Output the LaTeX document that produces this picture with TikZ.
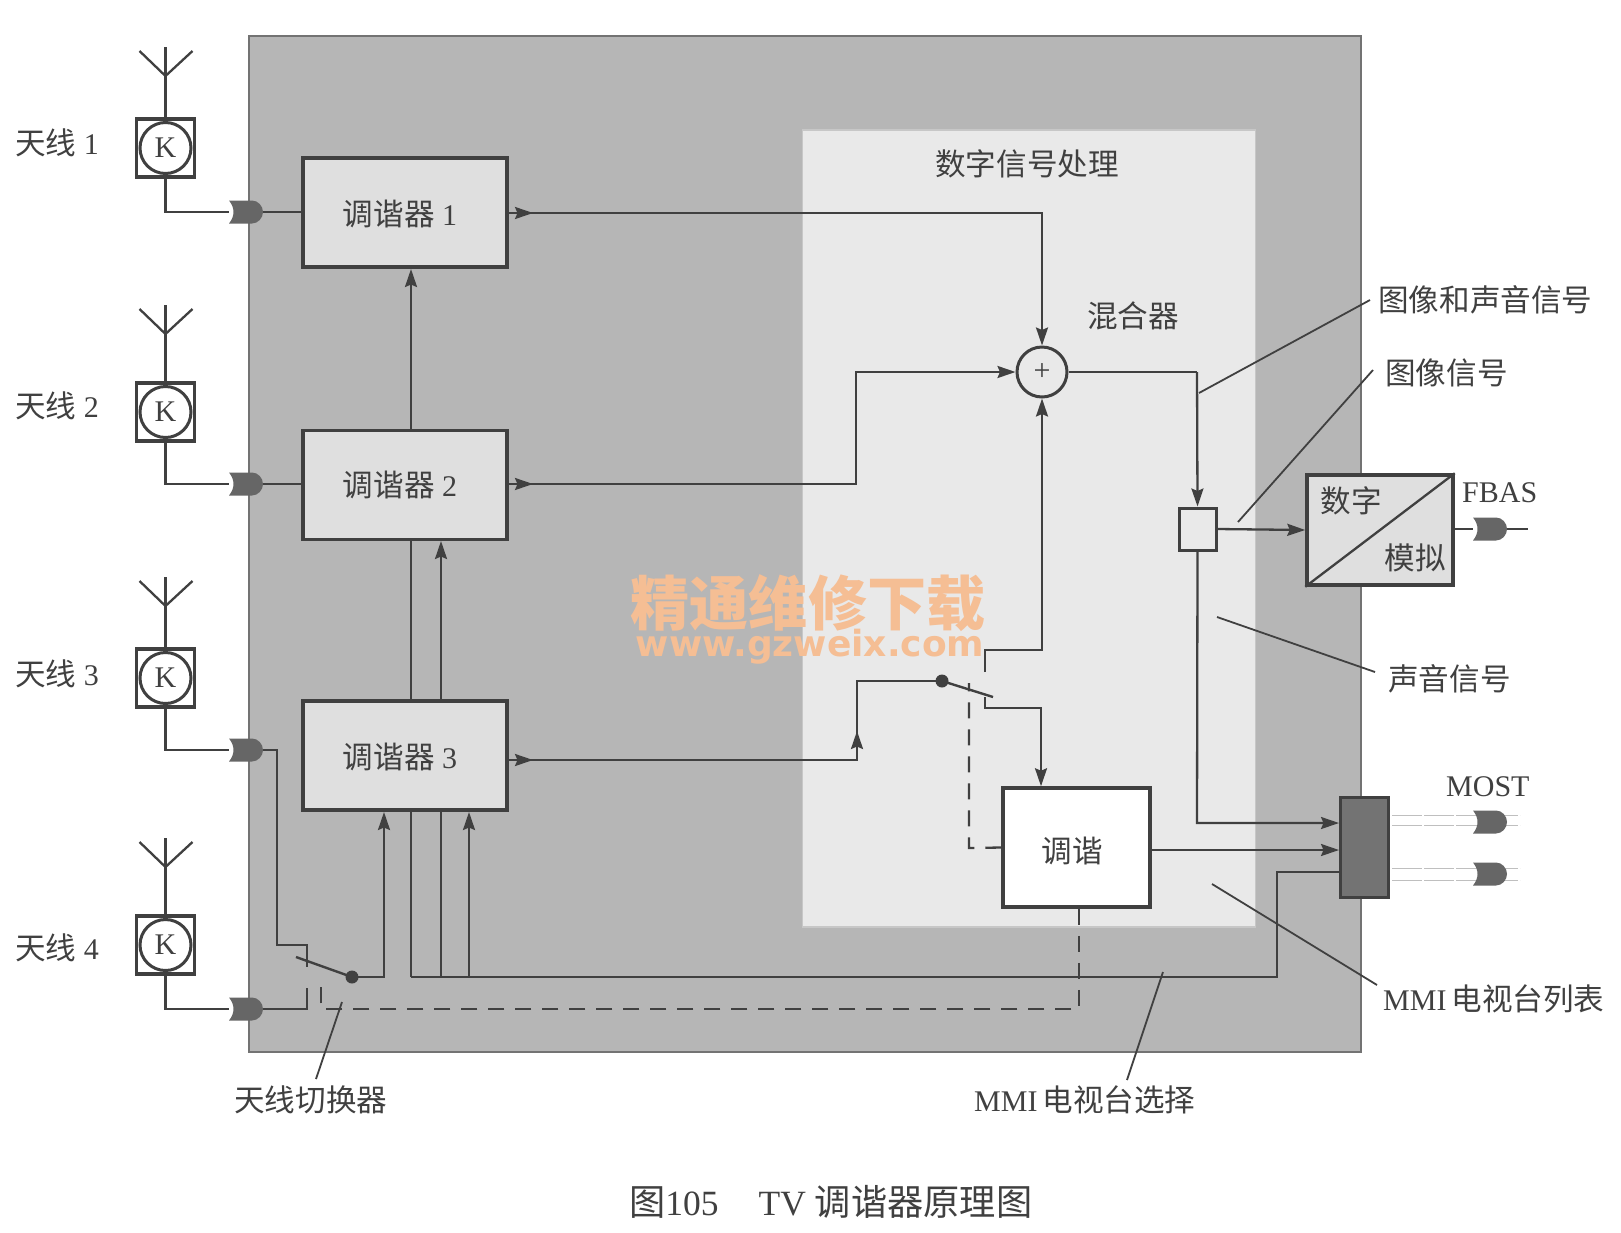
\documentclass[tikz,border=0pt]{standalone}
\usepackage{fontspec}
\setmainfont{Liberation Serif}
\newfontfamily\cjk[Scale=1.02]{Noto Sans CJK SC}
\newfontfamily\wmlatin{DejaVu Sans}
\usetikzlibrary{arrows.meta,calc}
\definecolor{ink}{HTML}{404040}
\definecolor{bggray}{HTML}{B6B6B6}
\definecolor{panelgray}{HTML}{E9E9E9}
\definecolor{tunergray}{HTML}{DFDFDF}
\definecolor{plugcol}{HTML}{666666}
\definecolor{muxcol}{HTML}{737373}
\definecolor{wmark}{HTML}{F5BE94}
\newcommand{\sz}{\fontsize{30}{35}\selectfont}
\tikzset{
  wire/.style={draw=ink,line width=2.3pt},
  tip/.style={-{Stealth[length=18pt,width=12pt,inset=2.5pt]}},
  dashwire/.style={draw=ink,line width=2.3pt,dash pattern=on 16pt off 11pt},
  leader/.style={draw=ink,line width=1.8pt},
  box/.style={draw=ink,line width=3.5pt,fill=tunergray,inner sep=0pt,text=ink,font=\sz},
  lbl/.style={inner sep=0pt,text=ink,font=\sz},
  plugnode/.style={minimum width=34pt,minimum height=23pt,inner sep=0pt,draw=none},
  antbox/.style={draw=ink,line width=3.5pt,minimum width=58pt,minimum height=58pt,inner sep=0pt},
  antcirc/.style={circle,draw=ink,line width=3pt,fill=white,minimum size=51pt,inner sep=0pt,text=ink,font=\sz},
  faint/.style={draw=black!25,line width=1pt,dash pattern=on 30pt off 2pt}
}
\newcommand{\plugat}[3]{%
  \node[plugnode] (#1) at (#2,#3) {};
  \fill[plugcol] (#2-17,#3-11.5) -- (#2+6,#3-11.5) .. controls (#2+12,#3-11.5) and (#2+17,#3-6) .. (#2+17,#3) .. controls (#2+17,#3+6) and (#2+12,#3+11.5) .. (#2+6,#3+11.5) -- (#2-17,#3+11.5) .. controls (#2-11,#3+4) and (#2-11,#3-4) .. (#2-17,#3-11.5) -- cycle;}
\newcommand{\antat}[4]{%
  \node[antbox] (#1box) at (#2,#3) {};
  \node[antcirc] (#1) at (#2,#3) {K};
  \coordinate (#1top) at (#2,#4);
  \coordinate (#1joint) at (#2,#4+29);
  \coordinate (#1l) at (#2-26,#4+4);
  \coordinate (#1r) at (#2+27,#4+4);
  \draw[wire] (#1box.north) -- (#1top);
  \draw[wire] (#1l) -- (#1joint) -- (#1r);}
\begin{document}
\begin{tikzpicture}[x=1pt,y=-1pt]
\useasboundingbox (0,0) rectangle (1621,1232);
% backgrounds
\fill[white] (0,0) rectangle (1621,1232);
\node[draw=black!55,line width=1.5pt,fill=bggray,minimum width=1112pt,minimum height=1016pt,inner sep=0pt] (outer) at (805,544) {};
\node[draw=black!22,line width=1.5pt,fill=panelgray,minimum width=453pt,minimum height=797pt,inner sep=0pt] (panel) at (1029,528.5) {};
% plugs and free points
\plugat{p1}{246}{212}
\plugat{p2}{246}{484}
\plugat{p3}{246}{750}
\plugat{p4}{246}{1009}
\plugat{pf}{1490}{529}
\coordinate (pfend) at (1528,529);
% named points on box edges
\coordinate (t1in) at (411,269);
\coordinate (t2in) at (441,541);
\coordinate (t3inL) at (384,812);
\coordinate (t3inR) at (469,812);
\coordinate (bus) at (411,977);
\coordinate (swA) at (352,977);
\coordinate (swB) at (942,681);
\coordinate (swA1) at (307,967);
\coordinate (swA2) at (307,988);
\coordinate (swAtip) at (296,957);
\coordinate (swBtip) at (993,697);
\coordinate (swB1) at (985,672);
\coordinate (swB2) at (985,697);
\coordinate (dashA) at (321,983);
\coordinate (dashB) at (969,683);
% wires under boxes
\draw[wire] (p3.east) -- (277,750) -- (277,945) -- (307,945) -- (swA1);
\draw[wire] (p4.east) -- (307,1009) -- (swA2);
\draw[wire,tip] (swA) -- (384,977) -- (t3inL);
\draw[wire,tip] (bus) -- (t1in);
\draw[wire,tip] (441,977) -- (t2in);
\draw[wire,tip] (469,977) -- (t3inR);
\draw[wire] (bus) -- (1277,977) -- (1277,872) -- (1340,872);
% named points along the outputs
\coordinate (out1) at (533,213);
\coordinate (out2) at (533,484);
\coordinate (out3) at (533,760);
\coordinate (up3) at (857,731);
% boxes
\node[box,minimum width=204pt,minimum height=109pt] (t1) at (405,212.5) {};
\node[box,minimum width=204pt,minimum height=109pt] (t2) at (405,485) {};
\node[box,minimum width=204pt,minimum height=109pt] (t3) at (405,755.5) {};
\node[lbl] at (400,214) {{\cjk 调谐器} 1};
\node[lbl] at (400,485) {{\cjk 调谐器} 2};
\node[lbl] at (400,757) {{\cjk 调谐器} 3};
\node[box,fill=white,minimum width=147pt,minimum height=119pt] (tune) at (1076.5,847.5) {};
\node[lbl] at (1072,851) {\cjk 调谐};
\draw[dashwire] (tune.south -| 1079,0) -- (1079,1009) -- (321,1009) -- (dashA);
\draw[dashwire] (tune.west) -- (969,848) -- (dashB);
\node[circle,draw=ink,line width=3pt,fill=panelgray,minimum size=50pt,inner sep=0pt,text=ink,font=\sz] (mix) at (1042,372) {+};
\node[box,line width=3pt,fill=panelgray,minimum width=37pt,minimum height=42pt] (small) at (1197.5,529) {};
\node[box,minimum width=146pt,minimum height=110pt] (da) at (1380,530) {};
\node[draw=ink,line width=3pt,fill=muxcol,minimum width=48pt,minimum height=100pt,inner sep=0pt] (mux) at (1364,847) {};
\coordinate (muxa) at (1339,823);
\coordinate (muxb) at (1339,850);
\coordinate (swtune) at (1041,708);
% antennas
\antat{a1}{165.5}{148}{47}
\antat{a2}{165.5}{412}{305}
\antat{a3}{165.5}{678}{577}
\antat{a4}{165.5}{945}{838}
\draw[wire] (a1box.south) |- (p1.west);
\draw[wire] (a2box.south) |- (p2.west);
\draw[wire] (a3box.south) |- (p3.west);
\draw[wire] (a4box.south) |- (p4.west);
\draw[wire] (p1.east) -- (t1.west |- p1.east);
\draw[wire] (p2.east) -- (t2.west |- p2.east);
% outputs
\draw[wire,tip] (t1.east |- out1) -- (1042,213) -- (mix.north);
\draw[wire,tip] (t1.east |- out1) -- (out1);
\draw[wire,tip] (t2.east |- out2) -- (856,484) -- (856,372) -- (mix.west);
\draw[wire,tip] (t2.east |- out2) -- (out2);
\draw[wire] (t3.east |- out3) -- (857,760) -- (857,681) -- (swB);
\draw[wire,tip] (t3.east |- out3) -- (out3);
\draw[wire,tip] (857,760) -- (up3);
\draw[wire,tip] (swB1) -- (985,650) -- (1042,650) -- (mix.south);
\draw[wire,tip] (swB2) -- (985,708) -- (swtune) -- (swtune |- tune.north);
\draw[wire] (mix.east) -- (1197,372);
\draw[wire,tip] (1197,372) -- (small.north);
\draw[wire,tip] (small.east) -- (da.west);
\draw[wire] (da.south west) -- (da.north east);
\draw[wire] (da.east |- pf.west) -- (pf.west);
\draw[wire] (pf.east) -- (pfend);
\draw[wire,tip] (small.south) -- (1197,823) -- (muxa);
\draw[wire,tip] (tune.east |- muxb) -- (muxb);
% switches
\fill[ink] (swA) circle (6.5pt);
\fill[ink] (swB) circle (6.5pt);
\draw[wire,line width=2.4pt] (swAtip) -- (swA);
\draw[wire,line width=2.4pt] (swB) -- (swBtip);
% MOST faint double lines and plugs
\draw[faint] (1392,815) -- (1520,815);
\draw[faint] (1392,825) -- (1520,825);
\draw[faint] (1392,868) -- (1520,868);
\draw[faint] (1392,880) -- (1520,880);
\plugat{pm1}{1490}{822}
\plugat{pm2}{1490}{874}
% leaders
\coordinate (l1a) at (1199,393); \coordinate (l1b) at (1370,300);
\coordinate (l2a) at (1238,522); \coordinate (l2b) at (1373,370);
\coordinate (l3a) at (1217,617); \coordinate (l3b) at (1375,672);
\coordinate (l4a) at (1212,884); \coordinate (l4b) at (1377,985);
\coordinate (l5a) at (1163,972); \coordinate (l5b) at (1127,1080);
\coordinate (l6a) at (342,1002); \coordinate (l6b) at (316,1079);
\draw[leader] (l1a) -- (l1b);
\draw[leader] (l2a) -- (l2b);
\draw[leader] (l3a) -- (l3b);
\draw[leader] (l4a) -- (l4b);
\draw[leader] (l5a) -- (l5b);
\draw[leader] (l6a) -- (l6b);
% labels
\node[lbl,anchor=west] (n1) at (15,143) {{\cjk 天线} 1};
\node[lbl,anchor=west] (n2) at (15,406) {{\cjk 天线} 2};
\node[lbl,anchor=west] (n3) at (15,674) {{\cjk 天线} 3};
\node[lbl,anchor=west] (n4) at (15,948) {{\cjk 天线} 4};
\node[lbl] (dsp) at (1027,164) {\cjk 数字信号处理};
\node[lbl] (mixl) at (1133,316) {\cjk 混合器};
\node[lbl] (dig) at (1351,501) {\cjk 数字};
\node[lbl] (ana) at (1415,558) {\cjk 模拟};
\node[lbl,anchor=west] (fbas) at (1462,493) {FBAS};
\node[lbl,anchor=west] (most) at (1446,787) {MOST};
\node[lbl,anchor=west] (s1) at (1378,300) {\cjk 图像和声音信号};
\node[lbl,anchor=west] (s2) at (1385,373) {\cjk 图像信号};
\node[lbl,anchor=west] (s3) at (1388,679) {\cjk 声音信号};
\node[lbl,anchor=west] (s4) at (1383,999) {MMI\,{\cjk 电视台列表}};
\node[lbl,anchor=west] (s5) at (974,1100) {MMI\,{\cjk 电视台选择}};
\node[lbl,anchor=west] (s6) at (234,1100) {\cjk 天线切换器};
\node[lbl,anchor=west,font=\fontsize{35.5}{40}\selectfont] (cap) at (629,1202) {{\cjk 图}105\hspace{40pt}TV\hspace{9pt}{\cjk 调谐器原理图}};
% watermark
\node[inner sep=0pt,text=wmark,font=\fontsize{58}{60}\selectfont\bfseries] (wm1) at (808,603) {\cjk 精通维修下载};
\node[inner sep=0pt,text=wmark,font=\fontsize{36}{38}\selectfont\bfseries] (wm2) at (810,647) {\wmlatin www.gzweix.com};
\end{tikzpicture}
\end{document}
